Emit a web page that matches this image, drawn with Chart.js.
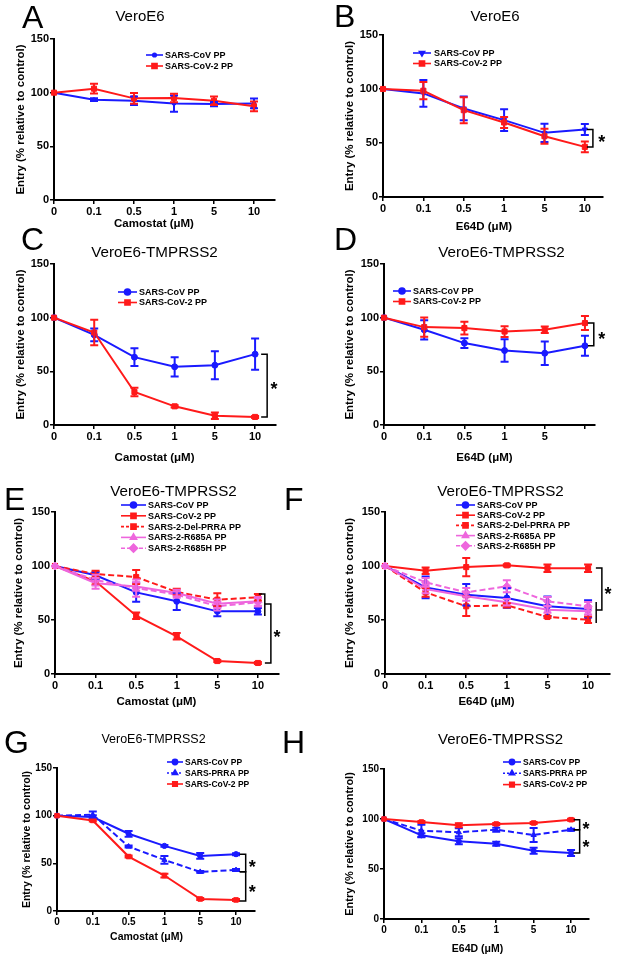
<!DOCTYPE html>
<html>
<head>
<meta charset="utf-8">
<script src="https://cdn.jsdelivr.net/npm/chart.js@4.4.0/dist/chart.umd.min.js"></script>
<style>
  html, body { margin: 0; padding: 0; background: #fff; }
  #wrap { position: relative; width: 617px; height: 961px; }
  #wrap canvas { position: absolute; left: 0; top: 0; }
</style>
</head>
<body>
<div id="wrap"></div>
<script>
// dose categories (x axis tick labels)
const doses = ['0', '0.1', '0.5', '1', '5', '10'];
const dosesD = ['0', '0.1', '0.5', '1', '5', ''];   // panel D has no "10" label
const yTicks = [0, 50, 100, 150];

// A - VeroE6, camostat
const aCov = [100, 93.5, 92.5, 89.8, 89.4, 90];
const aCovErr = [0, 1.2, 4, 7.5, 2, 4.5];
const aCov2 = [100, 103.7, 94.7, 95, 92.5, 87.3];
const aCov2Err = [0, 4.5, 5, 4, 4, 4.5];

// B - VeroE6, E64D
const bCov = [100, 95.9, 82, 71.2, 59.4, 62.5];
const bCovErr = [0, 12.4, 11, 10, 8.5, 5];
const bCov2 = [100, 98.4, 80.4, 69, 56.3, 46.4];
const bCov2Err = [0, 8, 12, 5, 7, 5];

// C - VeroE6-TMPRSS2, camostat
const cCov = [100, 84, 63.2, 54.2, 55.7, 66];
const cCovErr = [0, 6, 8.2, 9, 13, 14.5];
const cCov2 = [100, 86.2, 30.8, 17.4, 8.7, 7.5];
const cCov2Err = [0, 11.8, 4, 1, 3, 1];

// D - VeroE6-TMPRSS2, E64D
const dCov = [100, 88.7, 76.3, 69.4, 66.9, 73.8];
const dCovErr = [0, 9, 4.5, 10.5, 11, 9.3];
const dCov2 = [100, 91.2, 90.3, 87.1, 88.7, 95];
const dCov2Err = [0, 9, 6, 5, 3, 6.5];

// E - VeroE6-TMPRSS2, camostat, mutants
const eCov = [100, 91.4, 75.6, 67.3, 58, 58];
const eCovErr = [0, 3, 8.8, 8, 4.6, 3];
const eCov2 = [100, 85.8, 54, 34.9, 12, 10.2];
const eCov2Err = [0, 3, 3, 3, 1, 1];
const eDel = [100, 92.6, 89.8, 76, 68.8, 71];
const eDelErr = [0, 3, 6.5, 3, 6, 3];
const eR685A = [100, 84, 81, 75, 65, 67.3];
const eR685AErr = [0, 5, 4, 3, 4, 4];
const eR685H = [100, 87, 79.6, 73.5, 62.7, 66.4];
const eR685HErr = [0, 5, 8, 3, 4, 4];

// F - VeroE6-TMPRSS2, E64D, mutants
const fCov = [100, 80.2, 73.4, 70.4, 62.7, 60.2];
const fCovErr = [0, 10, 10, 9, 9, 8];
const fCov2 = [100, 95.7, 99, 100.6, 98, 98];
const fCov2Err = [0, 3, 8.5, 1, 3.5, 3.5];
const fDel = [100, 75.6, 62.7, 63.6, 52.8, 50.3];
const fDelErr = [0, 4, 9, 2, 1, 3];
const fR685A = [100, 78.7, 71.9, 66.4, 59.6, 58];
const fR685AErr = [0, 4, 4, 3, 3, 3];
const fR685H = [100, 84.9, 75.6, 81.2, 67.3, 62.7];
const fR685HErr = [0, 4, 4, 5.5, 4, 4];

// G - VeroE6-TMPRSS2, camostat, PRRA
const gCov = [100, 98.5, 81, 68.3, 57.8, 59.6];
const gCovErr = [0, 2, 3, 1, 3, 1];
const gPrra = [100, 101, 67.6, 53.6, 41, 43];
const gPrraErr = [0, 3.5, 1, 4, 1, 1];
const gCov2 = [100, 95, 57.1, 37.2, 12.6, 11.6];
const gCov2Err = [0, 1, 1, 2, 1, 1];

// H - VeroE6-TMPRSS2, E64D, PRRA
const hCov = [100, 83.7, 77.7, 75.3, 68.3, 66];
const hCovErr = [0, 2, 3, 2, 3, 3];
const hPrra = [100, 88.3, 86.7, 89.3, 84, 89.3];
const hPrraErr = [0, 6, 4, 2, 7, 1];
const hCov2 = [100, 97, 93.7, 95, 96, 99.3];
const hCov2Err = [0, 1, 2, 1, 1, 1];

const FONT = "'Liberation Sans', Arial, Helvetica, sans-serif";
const BLUE = '#1a1aff', RED = '#ff1a1a', PINK = '#ee66dd';

// series looks
const ST = {
  covDot: { color: BLUE, point: 'circle', r: 1.8 },
  covTri: { color: BLUE, point: 'triangle', r: 3, rot: 180 },
  cov:    { color: BLUE, point: 'circle', r: 3 },
  cov2:   { color: RED, point: 'rect', r: 3.6 },
  del:    { color: RED, point: 'rect', r: 3.6, dash: [6, 3], legDash: [3, 2] },
  r685a:  { color: PINK, point: 'triangle', r: 3.5 },
  r685h:  { color: PINK, point: 'rectRot', r: 4, dash: [6, 3], legDash: [4, 2] },
  prra:   { color: BLUE, point: 'triangle', r: 3, dash: [6, 3], legDash: [2, 2] },
  covS:   { color: BLUE, point: 'circle', r: 2.6 },
  cov2S:  { color: RED, point: 'rect', r: 3.2 }
};

const ser = (label, data, err, st) => ({ label, data, err, ...st });

const panels = [
  { letter: 'A', title: 'VeroE6', drug: 'Camostat', labels: doses,
    left: 54, top: 39, bottom: 200, right: 275, xmax: 5.525,
    yTitleX: 21, xTitleY: 223.5, titleX: 140, titleY: 17, titleSize: 15, letterX: 22, letterY: 28,
    leg: { x0: 146, x1: 163, tx: 165, y0: 55, dy: 11 },
    series: [ser('SARS-CoV PP', aCov, aCovErr, ST.covDot), ser('SARS-CoV-2 PP', aCov2, aCov2Err, ST.cov2)],
    brackets: [], stars: [] },
  { letter: 'B', title: 'VeroE6', drug: 'E64D', labels: doses,
    left: 383, top: 35, bottom: 197, right: 603, xmax: 5.45,
    yTitleX: 349.5, xTitleY: 227, titleX: 495, titleY: 17, titleSize: 15, letterX: 334, letterY: 27,
    leg: { x0: 413, x1: 431, tx: 434, y0: 53, dy: 10.5 },
    series: [ser('SARS-CoV PP', bCov, bCovErr, ST.covTri), ser('SARS-CoV-2 PP', bCov2, bCov2Err, ST.cov2)],
    brackets: [{ x: 5.2, y1: 62.5, y2: 46.4, caps: 'both' }], stars: [{ x: 5.42, y: 54.5 }] },
  { letter: 'C', title: 'VeroE6-TMPRSS2', drug: 'Camostat', labels: doses,
    left: 54, top: 264, bottom: 425, right: 276, xmax: 5.52,
    yTitleX: 21, xTitleY: 458, titleX: 154.5, titleY: 253, titleSize: 15.2, letterX: 21, letterY: 250,
    leg: { x0: 118, x1: 137, tx: 139, y0: 292, dy: 10.5 },
    series: [ser('SARS-CoV PP', cCov, cCovErr, ST.cov), ser('SARS-CoV-2 PP', cCov2, cCov2Err, ST.cov2)],
    brackets: [{ x: 5.3, y1: 66, y2: 7.5, caps: 'both' }], stars: [{ x: 5.47, y: 37 }] },
  { letter: 'D', title: 'VeroE6-TMPRSS2', drug: 'E64D', labels: dosesD,
    left: 384, top: 264, bottom: 425, right: 595, xmax: 5.25,
    yTitleX: 349.5, xTitleY: 458, titleX: 501.5, titleY: 253, titleSize: 15.2, letterX: 334, letterY: 250,
    leg: { x0: 393, x1: 411, tx: 413, y0: 291, dy: 10.5 },
    series: [ser('SARS-CoV PP', dCov, dCovErr, ST.cov), ser('SARS-CoV-2 PP', dCov2, dCov2Err, ST.cov2)],
    brackets: [{ x: 5.22, y1: 95, y2: 73.8, caps: 'both' }], stars: [{ x: 5.42, y: 84 }] },
  { letter: 'E', title: 'VeroE6-TMPRSS2', drug: 'Camostat', labels: doses,
    left: 55, top: 512, bottom: 674, right: 279, xmax: 5.52,
    yTitleX: 19, xTitleY: 702, titleX: 173.5, titleY: 492, titleSize: 15.2, letterX: 4, letterY: 510,
    leg: { x0: 121, x1: 146, tx: 148, y0: 505, dy: 10.8 },
    series: [ser('SARS-CoV PP', eCov, eCovErr, ST.cov), ser('SARS-CoV-2 PP', eCov2, eCov2Err, ST.cov2),
             ser('SARS-2-Del-PRRA PP', eDel, eDelErr, ST.del), ser('SARS-2-R685A PP', eR685A, eR685AErr, ST.r685a),
             ser('SARS-2-R685H PP', eR685H, eR685HErr, ST.r685h)],
    brackets: [{ x: 5.17, y1: 74, y2: 53.7, caps: 'top' }, { x: 5.32, y1: 64.8, y2: 10.2, caps: 'both' }],
    stars: [{ x: 5.47, y: 38 }] },
  { letter: 'F', title: 'VeroE6-TMPRSS2', drug: 'E64D', labels: doses,
    left: 385, top: 512, bottom: 674, right: 610, xmax: 5.54,
    yTitleX: 350, xTitleY: 702, titleX: 500.5, titleY: 492, titleSize: 15.2, letterX: 284, letterY: 510,
    leg: { x0: 456, x1: 475, tx: 477, y0: 505, dy: 10.2 },
    series: [ser('SARS-CoV PP', fCov, fCovErr, ST.cov), ser('SARS-CoV-2 PP', fCov2, fCov2Err, ST.cov2),
             ser('SARS-2-Del-PRRA PP', fDel, fDelErr, ST.del), ser('SARS-2-R685A PP', fR685A, fR685AErr, ST.r685a),
             ser('SARS-2-R685H PP', fR685H, fR685HErr, ST.r685h)],
    brackets: [{ x: 5.34, y1: 98.1, y2: 59.3, caps: 'both' }, { x: 5.2, y1: 66.7, y2: 47.2, caps: 'none' }],
    stars: [{ x: 5.49, y: 77.8 }] },
  { letter: 'G', title: 'VeroE6-TMPRSS2', drug: 'Camostat', labels: doses, small: true,
    left: 57, top: 768, bottom: 911, right: 255, xmax: 5.53,
    yTitleX: 27, xTitleY: 937, titleX: 153.5, titleY: 740, titleSize: 12.5, letterX: 4, letterY: 753,
    leg: { x0: 167, x1: 183, tx: 185, y0: 762, dy: 11 },
    series: [ser('SARS-CoV PP', gCov, gCovErr, ST.covS), ser('SARS-PRRA PP', gPrra, gPrraErr, ST.prra),
             ser('SARS-CoV-2 PP', gCov2, gCov2Err, ST.cov2S)],
    brackets: [{ x: 5.27, y1: 59.6, y2: 41.3, caps: 'both' }, { x: 5.27, y1: 41.3, y2: 10.5, caps: 'both' }],
    stars: [{ x: 5.45, y: 50.3 }, { x: 5.45, y: 24 }] },
  { letter: 'H', title: 'VeroE6-TMPRSS2', drug: 'E64D', labels: doses, small: true,
    left: 384, top: 769, bottom: 919, right: 589, xmax: 5.48,
    yTitleX: 350, xTitleY: 949, titleX: 500.5, titleY: 740, titleSize: 15, letterX: 282, letterY: 753,
    leg: { x0: 503, x1: 521, tx: 523, y0: 762, dy: 11.3 },
    series: [ser('SARS-CoV PP', hCov, hCovErr, ST.covS), ser('SARS-PRRA PP', hPrra, hPrraErr, ST.prra),
             ser('SARS-CoV-2 PP', hCov2, hCov2Err, ST.cov2S)],
    brackets: [{ x: 5.23, y1: 99.3, y2: 89.3, caps: 'both' }, { x: 5.23, y1: 89.3, y2: 66, caps: 'both' }],
    stars: [{ x: 5.4, y: 94 }, { x: 5.4, y: 76.3 }] }
];

// vertical SEM bars, drawn through the chart's own scales
const errorBars = {
  id: 'errorBars',
  afterDatasetsDraw(chart) {
    const { ctx } = chart;
    const ys = chart.scales.y;
    const cap = chart.$small ? 3.5 : 4;
    ctx.save();
    chart.data.datasets.forEach((ds, i) => {
      const meta = chart.getDatasetMeta(i);
      ctx.strokeStyle = ds.borderColor;
      ctx.lineWidth = 2;
      ctx.setLineDash([]);
      meta.data.forEach((pt, j) => {
        const e = ds.err[j];
        if (!e) return;
        const v = ds.data[j].y;
        const y1 = ys.getPixelForValue(v + e), y2 = ys.getPixelForValue(v - e);
        ctx.beginPath();
        ctx.moveTo(pt.x, y1); ctx.lineTo(pt.x, y2);
        ctx.moveTo(pt.x - cap, y1); ctx.lineTo(pt.x + cap, y1);
        ctx.moveTo(pt.x - cap, y2); ctx.lineTo(pt.x + cap, y2);
        ctx.stroke();
      });
    });
    ctx.restore();
  }
};

function drawDeco(chart, p) {
  const { ctx } = chart;
  const xs = chart.scales.x, ys = chart.scales.y;
  ctx.save();
  ctx.fillStyle = '#000';

  ctx.font = `32px ${FONT}`;
  ctx.textAlign = 'left';
  ctx.textBaseline = 'alphabetic';
  ctx.fillText(p.letter, p.letterX, p.letterY);

  ctx.font = `${p.titleSize}px ${FONT}`;
  ctx.textAlign = 'center';
  ctx.textBaseline = 'middle';
  ctx.fillText(p.title, p.titleX, p.titleY);

  ctx.font = `bold ${p.small ? 10.5 : 11.5}px ${FONT}`;
  ctx.fillText(p.drug + ' (\u03bcM)', xs.getPixelForValue(2.5), p.xTitleY);

  // legend inside the plot
  const L = p.leg;
  ctx.font = `bold ${p.small ? 8.5 : 9}px ${FONT}`;
  ctx.textAlign = 'left';
  p.series.forEach((s, i) => {
    const y = L.y0 + i * L.dy;
    ctx.strokeStyle = s.color;
    ctx.fillStyle = s.color;
    ctx.lineWidth = 1.6;
    ctx.setLineDash(s.legDash || []);
    ctx.beginPath();
    ctx.moveTo(L.x0, y); ctx.lineTo(L.x1, y);
    ctx.stroke();
    ctx.setLineDash([]);
    Chart.helpers.drawPoint(ctx, { pointStyle: s.point, radius: s.r, rotation: s.rot || 0, borderWidth: 1 },
      (L.x0 + L.x1) / 2, y);
    ctx.fillStyle = '#000';
    ctx.fillText(s.label, L.tx, y + 0.5);
  });

  // significance brackets
  ctx.strokeStyle = '#000';
  ctx.lineWidth = 1.5;
  ctx.setLineDash([]);
  p.brackets.forEach(b => {
    const bx = xs.getPixelForValue(b.x);
    const y1 = ys.getPixelForValue(b.y1), y2 = ys.getPixelForValue(b.y2);
    ctx.beginPath();
    if (b.caps === 'both' || b.caps === 'top') { ctx.moveTo(bx - 6, y1); ctx.lineTo(bx, y1); }
    else ctx.moveTo(bx, y1);
    ctx.lineTo(bx, y2);
    if (b.caps === 'both') ctx.lineTo(bx - 6, y2);
    ctx.stroke();
  });
  ctx.fillStyle = '#000';
  ctx.font = `bold 18px ${FONT}`;
  ctx.textAlign = 'center';
  ctx.textBaseline = 'alphabetic';
  p.stars.forEach(s => {
    ctx.fillText('*', xs.getPixelForValue(s.x), ys.getPixelForValue(s.y) + 10);
  });
  ctx.restore();
}

const wrap = document.getElementById('wrap');

panels.forEach(p => {
  const cv = document.createElement('canvas');
  cv.width = 617; cv.height = 961;
  wrap.appendChild(cv);

  const ySize = p.small ? (p.letter === 'G' ? 10.5 : 11) : 11.5;
  const tickSize = p.small ? 10 : 11;
  const padLeft = p.yTitleX - ySize * 0.6;
  const yWidth = p.left - padLeft;
  const xHeight = 20;

  const chart = new Chart(cv, {
    type: 'line',
    data: {
      datasets: p.series.map((s, i) => ({
        label: s.label,
        data: s.data.map((v, j) => ({ x: j, y: v })),
        err: s.err,
        borderColor: s.color,
        backgroundColor: s.color,
        borderWidth: 2,
        borderDash: s.dash || [],
        pointStyle: s.point,
        pointRadius: s.r,
        pointRotation: s.rot || 0,
        pointBackgroundColor: s.color,
        pointBorderColor: s.color,
        pointBorderWidth: 1,
        tension: 0,
        clip: false,
        order: p.series.length - i
      }))
    },
    options: {
      responsive: false,
      animation: false,
      events: [],
      layout: {
        padding: { left: padLeft, top: p.top, right: 617 - p.right, bottom: 961 - p.bottom - xHeight }
      },
      plugins: { legend: { display: false }, tooltip: { enabled: false }, title: { display: false } },
      scales: {
        x: {
          type: 'linear', min: 0, max: p.xmax,
          afterFit: s => { s.height = xHeight; },
          ticks: {
            stepSize: 1, includeBounds: false, autoSkip: false, maxRotation: 0, padding: 1,
            color: '#000', font: { family: FONT, size: tickSize, weight: 'bold' },
            callback: v => p.labels[v] ?? ''
          },
          grid: { display: true, drawOnChartArea: false, tickLength: 4, color: '#000', lineWidth: 1.5 },
          border: { display: true, color: '#000', width: 2 }
        },
        y: {
          min: 0, max: 150,
          afterFit: s => { s.width = yWidth; },
          afterBuildTicks: s => { s.ticks = yTicks.map(v => ({ value: v })); },
          ticks: {
            padding: 1, color: '#000', font: { family: FONT, size: tickSize, weight: 'bold' }
          },
          grid: { display: true, drawOnChartArea: false, tickLength: 4, color: '#000', lineWidth: 1.5 },
          border: { display: true, color: '#000', width: 2 },
          title: {
            display: true, text: 'Entry (% relative to control)', padding: 0, color: '#000',
            font: { family: FONT, size: ySize, weight: 'bold' }
          }
        }
      }
    },
    plugins: [errorBars, { id: 'deco', afterDraw: c => drawDeco(c, p) }]
  });
  chart.$small = !!p.small;
});
</script>
</body>
</html>
